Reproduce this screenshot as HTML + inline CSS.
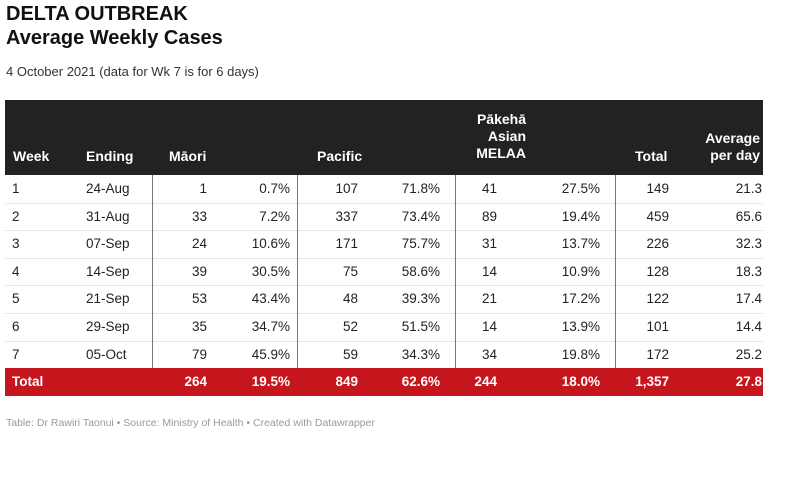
<!DOCTYPE html>
<html><head><meta charset="utf-8"><style>
body{margin:0;width:800px;height:489px;background:#fff;font-family:"Liberation Sans",sans-serif;position:relative;overflow:hidden}
.a{position:absolute;white-space:nowrap}
.t{font-weight:bold;font-size:20px;color:#111;left:6px}
.hd{position:absolute;left:5px;top:100px;width:758px;height:75px;background:#222}
.h{position:absolute;color:#fff;font-weight:bold;font-size:14px;line-height:17px}
.c{position:absolute;font-size:13.5px;color:#222;line-height:16px}
.r{text-align:right}
.vl{position:absolute;width:1px;background:#777;top:175px;height:193px}
.hl{position:absolute;left:5px;width:758px;height:1px;background:#e6e6e6}
.tot{position:absolute;left:5px;top:368px;width:758px;height:28px;background:#c4161c}
</style></head><body>
<div class="a t" style="top:3px">DELTA OUTBREAK</div>
<div class="a t" style="top:27px">Average Weekly Cases</div>
<div class="a" style="left:6px;top:64px;font-size:13px;color:#333">4 October 2021 (data for Wk 7 is for 6 days)</div>
<div class="hd"></div>
<div class="h" style="left:13px;top:148px">Week</div>
<div class="h" style="left:86px;top:148px">Ending</div>
<div class="h" style="left:169px;top:148px">Māori</div>
<div class="h" style="left:317px;top:148px">Pacific</div>
<div class="h r" style="right:274px;top:111px">Pākehā<br>Asian<br>MELAA</div>
<div class="h" style="left:635px;top:148px">Total</div>
<div class="h r" style="right:40px;top:130px">Average<br>per day</div>
<div class="tot"></div>
<div id="body"></div>
<div class="a" style="left:6px;top:417px;font-size:10.5px;color:#999">Table: Dr Rawiri Taonui • Source: Ministry of Health • Created with Datawrapper</div>
<script>
const weeks=["1","2","3","4","5","6","7"];
const endings=["24-Aug","31-Aug","07-Sep","14-Sep","21-Sep","29-Sep","05-Oct"];
const maori=["1","33","24","39","53","35","79"];
const maoriPct=["0.7%","7.2%","10.6%","30.5%","43.4%","34.7%","45.9%"];
const pacific=["107","337","171","75","48","52","59"];
const pacificPct=["71.8%","73.4%","75.7%","58.6%","39.3%","51.5%","34.3%"];
const pakeha=["41","89","31","14","21","14","34"];
const pakehaPct=["27.5%","19.4%","13.7%","10.9%","17.2%","13.9%","19.8%"];
const totals=["149","459","226","128","122","101","172"];
const avgs=["21.3","65.6","32.3","18.3","17.4","14.4","25.2"];
const totalRow=["Total","","264","19.5%","849","62.6%","244","18.0%","1,357","27.8"];
const b=document.getElementById('body');
const cols=[[12,'l'],[86,'l'],[207,'r'],[290,'r'],[358,'r'],[440,'r'],[497,'r'],[600,'r'],[669,'r'],[762,'r']];
const rowH=27.6;
function cell(txt,ci,top,color,bold){
  const d=document.createElement('div');
  d.className='c';
  d.textContent=txt;
  const [x,al]=cols[ci];
  if(al==='l'){d.style.left=x+'px';}else{d.style.right=(800-x)+'px';d.style.textAlign='right';}
  d.style.top=top+'px';
  if(color){d.style.color=color;}
  if(bold){d.style.fontWeight='bold';}
  
  
  b.appendChild(d);
}
for(let i=0;i<weeks.length;i++){
  const top=175+i*rowH;
  const vals=[weeks[i],endings[i],maori[i],maoriPct[i],pacific[i],pacificPct[i],pakeha[i],pakehaPct[i],totals[i],avgs[i]];
  vals.forEach((v,ci)=>cell(v,ci,top+6));
  if(i>0){
    const l=document.createElement('div');
    l.className='hl';
    l.style.top=top+'px';
    
    
    b.appendChild(l);
  }
}
totalRow.forEach((v,ci)=>cell(v,ci,374,'#fff',true));
[152,297,455,615].forEach(x=>{
  const l=document.createElement('div');
  l.className='vl';
  l.style.left=x+'px';
  
  
  b.appendChild(l);
});
</script>
</body></html>
